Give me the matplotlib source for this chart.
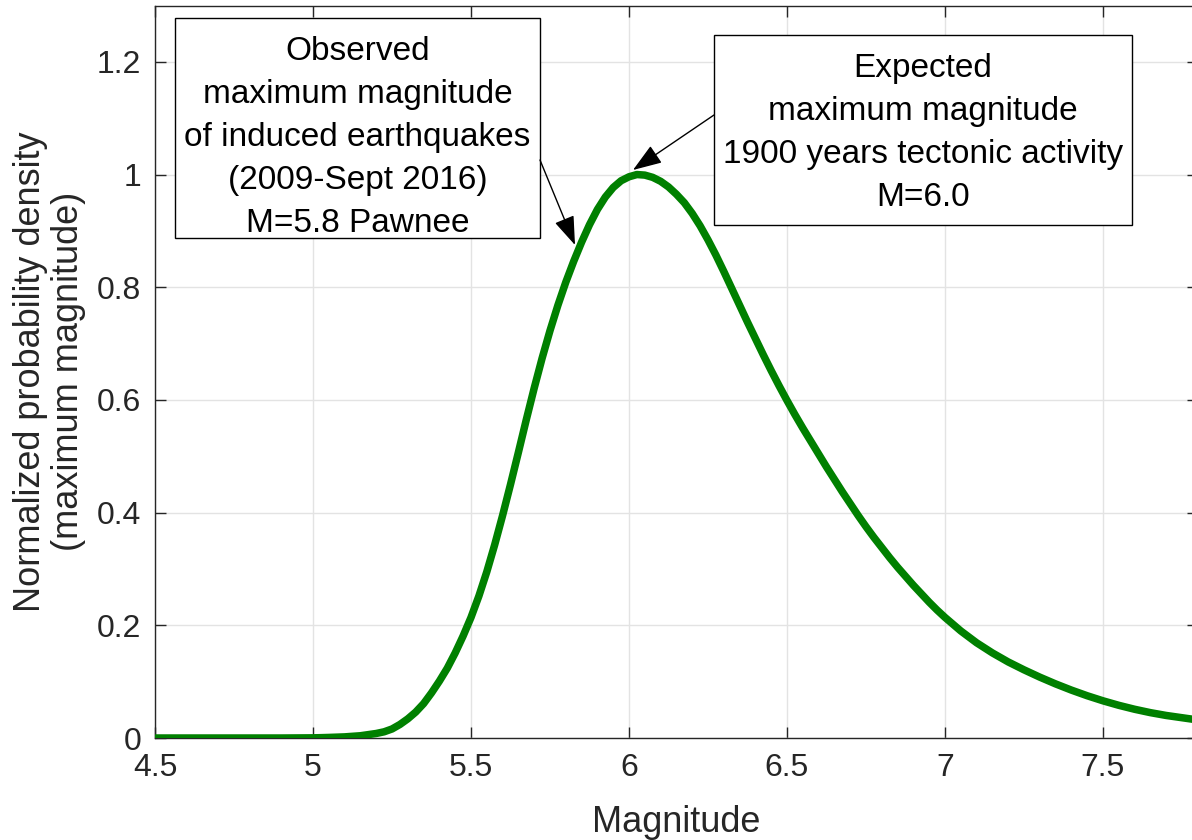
import matplotlib
matplotlib.use("Agg")
import matplotlib.pyplot as plt
from matplotlib.patches import Rectangle

# ---- data ----
magnitude = [4.50, 4.60, 4.70, 4.80, 4.90,
             5.000, 5.025, 5.050, 5.075, 5.100, 5.125, 5.150, 5.175,
             5.200, 5.225, 5.250, 5.275, 5.300, 5.325, 5.350, 5.375,
             5.400, 5.425, 5.450, 5.475, 5.500, 5.525, 5.550, 5.575,
             5.600, 5.625, 5.650, 5.675, 5.700, 5.725, 5.750, 5.775,
             5.800, 5.825, 5.850, 5.875, 5.900, 5.925, 5.950, 5.975,
             6.000, 6.025, 6.050, 6.075, 6.100, 6.125, 6.150, 6.175,
             6.200, 6.225, 6.250, 6.275, 6.300, 6.325, 6.350, 6.375,
             6.400, 6.425, 6.450, 6.475, 6.500, 6.525, 6.550, 6.575,
             6.600, 6.625, 6.650, 6.675, 6.700, 6.725, 6.750, 6.775,
             6.800, 6.825, 6.850, 6.875, 6.900, 6.925, 6.950, 6.975,
             7.00, 7.05, 7.10, 7.15, 7.20, 7.25, 7.30, 7.35, 7.40, 7.45,
             7.50, 7.55, 7.60, 7.65, 7.70, 7.75, 7.80]
density = [0.0, 0.0, 0.0, 0.0, 0.0,
           0.0003, 0.0006, 0.001, 0.0015, 0.002, 0.003, 0.004, 0.006,
           0.008, 0.011, 0.016, 0.024, 0.034, 0.046, 0.061, 0.080,
           0.101, 0.124, 0.151, 0.181, 0.214, 0.252, 0.295, 0.343,
           0.395, 0.450, 0.507, 0.565, 0.621, 0.674, 0.723, 0.768,
           0.809, 0.846, 0.880, 0.911, 0.938, 0.960, 0.977, 0.989,
           0.996, 1.000, 0.999, 0.995, 0.988, 0.978, 0.965, 0.950,
           0.931, 0.909, 0.884, 0.857, 0.828, 0.798, 0.768, 0.738,
           0.709, 0.680, 0.652, 0.625, 0.599, 0.574, 0.550, 0.527,
           0.504, 0.481, 0.459, 0.437, 0.416, 0.395, 0.375, 0.356,
           0.338, 0.320, 0.303, 0.287, 0.271, 0.256, 0.241, 0.227,
           0.214, 0.190, 0.169, 0.151, 0.135, 0.121, 0.108, 0.096, 0.085, 0.075,
           0.066, 0.058, 0.051, 0.045, 0.040, 0.036, 0.032]

x_ticks = [4.5, 5, 5.5, 6, 6.5, 7, 7.5]
x_tick_labels = ["4.5", "5", "5.5", "6", "6.5", "7", "7.5"]
y_ticks = [0, 0.2, 0.4, 0.6, 0.8, 1.0, 1.2]
y_tick_labels = ["0", "0.2", "0.4", "0.6", "0.8", "1", "1.2"]

observed_text = "Observed\nmaximum magnitude\nof induced earthquakes\n(2009-Sept 2016)\nM=5.8 Pawnee"
expected_text = "Expected\nmaximum magnitude\n1900 years tectonic activity\nM=6.0"

plt.rcParams['font.family'] = ['Liberation Sans', 'DejaVu Sans']

W, H = 1192, 840
fig = plt.figure(figsize=(W / 100, H / 100), dpi=100)
ax = fig.add_axes([155 / W, 102 / H, 1042.8 / W, 732.5 / H])

axis_col = '#262626'
ax.plot(magnitude, density, color='#008000', lw=5.4, solid_capstyle='butt',
        solid_joinstyle='round', zorder=3)

ax.set_xlim(4.5, 7.8)
ax.set_ylim(0, 1.3)
ax.set_xticks(x_ticks)
ax.set_xticklabels(x_tick_labels)
ax.set_yticks(y_ticks)
ax.set_yticklabels(y_tick_labels)
ax.grid(True, color='#e3e3e3', lw=1.0, zorder=0)
ax.set_axisbelow(True)
ax.tick_params(axis='both', direction='in', length=8, width=1.0, color=axis_col,
               labelsize=23, labelcolor=axis_col, top=True, right=True)
ax.tick_params(axis='x', pad=11)
ax.tick_params(axis='y', pad=10)
for s in ax.spines.values():
    s.set_color(axis_col)
    s.set_linewidth(1.0)

ax.set_xlabel("Magnitude", fontsize=26, color=axis_col, labelpad=16)
ax.set_ylabel("Normalized probability density\n(maximum magnitude)", fontsize=26,
              color=axis_col, labelpad=8, linespacing=1.1)


def px_to_data(px, py):
    return ax.transData.inverted().transform(fig.transFigure.transform((px / W, 1 - py / H)))


def box(x0, y0, x1, y1, text, text_dy=0):
    (dx0, dy1) = px_to_data(x0, y0)
    (dx1, dy0) = px_to_data(x1, y1)
    r = Rectangle((dx0, dy0), dx1 - dx0, dy1 - dy0, facecolor='white',
                  edgecolor='black', lw=1.0, zorder=5)
    ax.add_patch(r)
    cx, cy = px_to_data((x0 + x1) / 2, (y0 + y1) / 2 + text_dy)
    ax.text(cx, cy, text, ha='center', va='center',
            fontsize=24, color='black', linespacing=1.5, zorder=6)


fig.canvas.draw()
box(175, 18, 540, 238, observed_text, text_dy=9)
box(714, 35, 1132, 225, expected_text, text_dy=3)

arrow_kw = dict(arrowstyle='-|>,head_length=0.9,head_width=0.32', color='black',
                lw=1.0, shrinkA=0, shrinkB=0, mutation_scale=20)
ax.annotate('', xy=px_to_data(575, 245), xytext=px_to_data(540, 160),
            arrowprops=arrow_kw, zorder=7)
ax.annotate('', xy=px_to_data(633, 170), xytext=px_to_data(714, 115),
            arrowprops=arrow_kw, zorder=7)

fig.savefig("out.png", dpi=100)
